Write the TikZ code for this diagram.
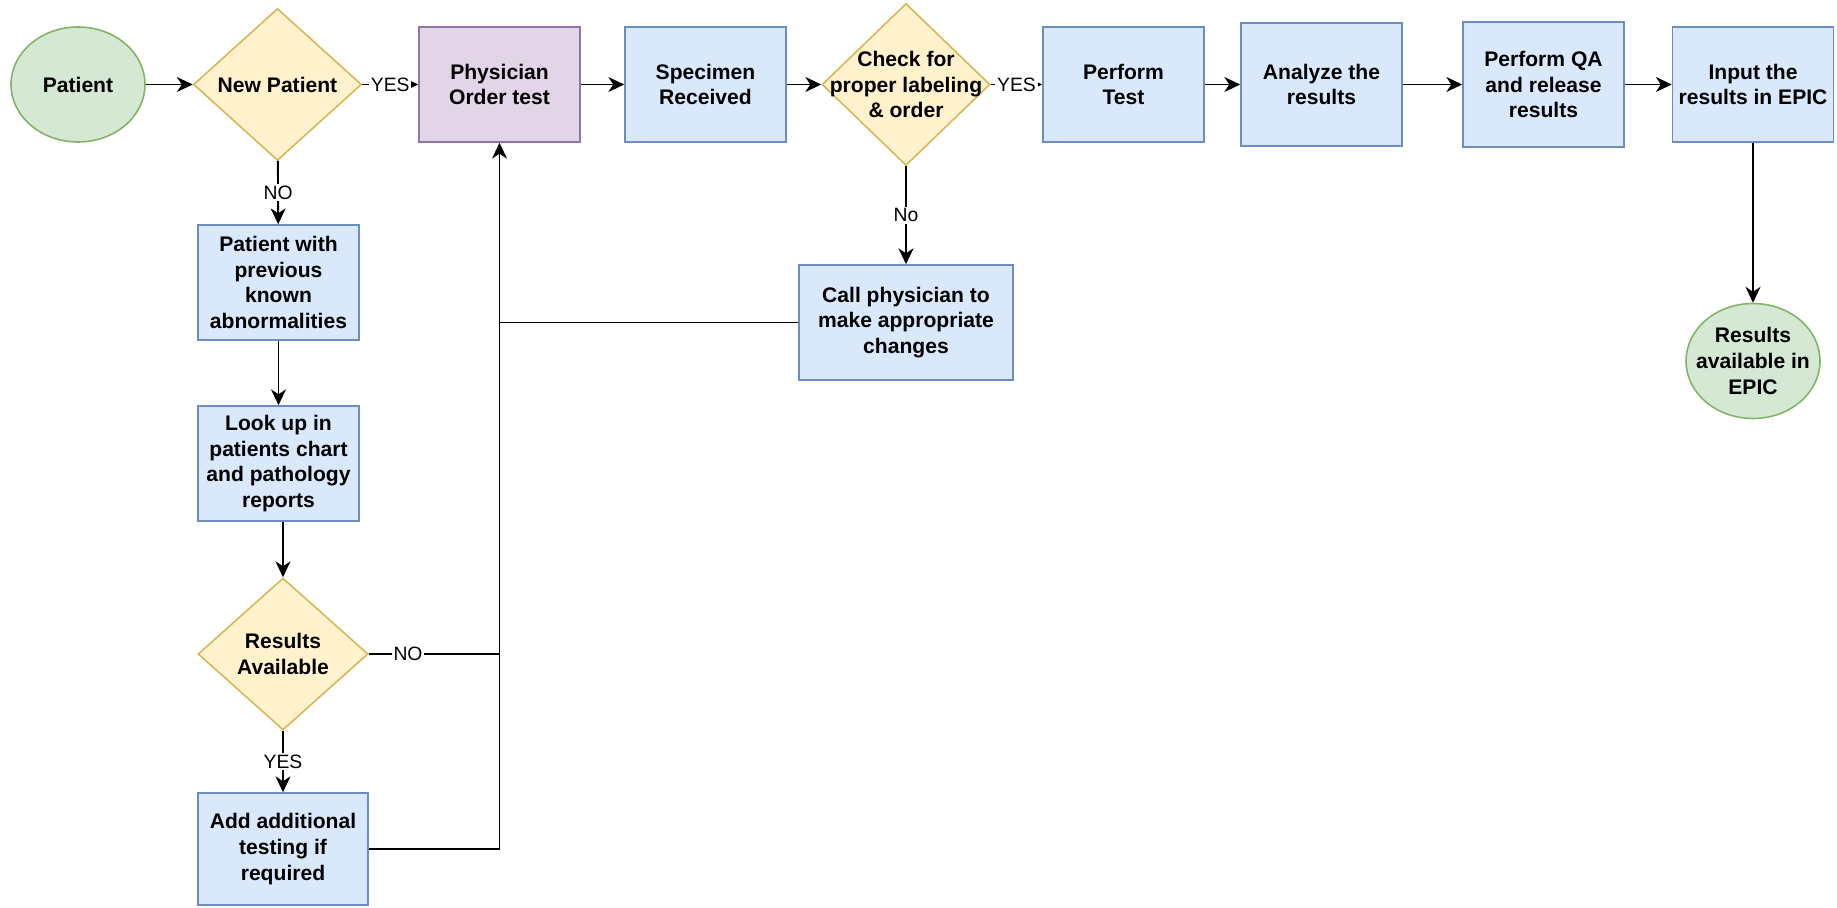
\documentclass[tikz,border=0pt]{standalone}
\usepackage{fontspec}
\setmainfont{Liberation Sans}
\usetikzlibrary{shapes.geometric,arrows.meta}
\definecolor{grnfill}{HTML}{D5E8D4}
\definecolor{grnline}{HTML}{82B366}
\definecolor{ylwfill}{HTML}{FFF2CC}
\definecolor{ylwline}{HTML}{D6B656}
\definecolor{blufill}{HTML}{DAE8FC}
\definecolor{bluline}{HTML}{6C8EBF}
\definecolor{prpfill}{HTML}{E1D5E7}
\definecolor{prpline}{HTML}{9673A6}

\begin{document}
\begin{tikzpicture}[
    every node/.style={font=\fontsize{12}{14.6}\selectfont\bfseries, align=center, inner sep=0pt},
    startend/.style={ellipse, draw=grnline, fill=grnfill, line width=0.9pt, minimum width=2.68cm, minimum height=2.3cm},
    procbox/.style={rectangle, draw=bluline, fill=blufill, line width=0.9pt, minimum width=3.22cm, minimum height=2.3cm},
    orderbox/.style={procbox, draw=prpline, fill=prpfill},
    decision/.style={diamond, draw=ylwline, fill=ylwfill, line width=0.9pt, minimum width=3.36cm, minimum height=3.04cm},
    edgelbl/.style={fill=white, inner sep=1pt, font=\fontsize{11}{13}\selectfont},
    link/.style={line width=1.1pt},
    arr/.style={link, -{Stealth[length=9pt,width=8.5pt,inset=2.8pt]}}
]
    \useasboundingbox (0,0) rectangle (36.74,-18.16);
    \node[startend] (pat) at (1.56,-1.69) {Patient};
    \node[decision, label={center:New Patient}] (newp) at (5.55,-1.69) {};
    \node[orderbox] (phys) at (9.99,-1.69) {Physician\\Order test};
    \node[procbox] (spec) at (14.11,-1.69) {Specimen\\Received};
    \node[decision, minimum height=3.24cm, label={center:{Check for\\proper labeling\\\& order}}] (chk) at (18.12,-1.69) {};
    \node[procbox] (perf) at (22.47,-1.69) {Perform\\Test};
    \node[procbox, minimum height=2.46cm] (anal) at (26.43,-1.69) {Analyze the\\results};
    \node[procbox, minimum height=2.5cm] (qa) at (30.87,-1.69) {Perform QA\\and release\\results};
    \node[procbox] (inp) at (35.06,-1.69) {Input the\\results in EPIC};
    \node[startend, label={center:{Results\\available in\\EPIC}}] (epic) at (35.06,-7.22) {};
    \node[procbox, minimum width=4.28cm] (call) at (18.12,-6.45) {Call physician to\\make appropriate\\changes};
    \node[procbox] (prev) at (5.57,-5.65) {Patient with\\previous\\known\\abnormalities};
    \node[procbox] (look) at (5.57,-9.27) {Look up in\\patients chart\\and pathology\\reports};
    \node[decision, minimum width=3.4cm, label={center:{Results\\Available}}] (resq) at (5.66,-13.08) {};
    \node[procbox, minimum width=3.4cm, minimum height=2.24cm] (add) at (5.66,-16.98) {Add additional\\testing if\\required};

    \draw[arr] (pat) -- (newp);
    \draw[arr] (newp) -- node[edgelbl]{YES} (phys);
    \draw[arr] (phys) -- (spec);
    \draw[arr] (spec) -- (chk);
    \draw[arr] (chk) -- node[edgelbl]{YES} (perf);
    \draw[arr] (perf) -- (anal);
    \draw[arr] (anal) -- (qa);
    \draw[arr] (qa) -- (inp);
    \draw[arr] (inp) -- (epic);
    \draw[arr] (chk) -- node[edgelbl]{No} (call);
    \draw[arr] (newp) -- node[edgelbl]{NO} (prev);
    \draw[arr] (prev) -- (look);
    \draw[arr] (look.south -| resq) -- (resq);
    \draw[arr] (resq) -- node[edgelbl]{YES} (add);
    \draw[arr] (add.east) -| (phys.south);
    \draw[link] (resq.east) -- node[edgelbl, pos=0.3]{NO} (resq.east -| phys.south);
    \draw[link] (call.west) -- (call.west -| phys.south);
\end{tikzpicture}
\end{document}
